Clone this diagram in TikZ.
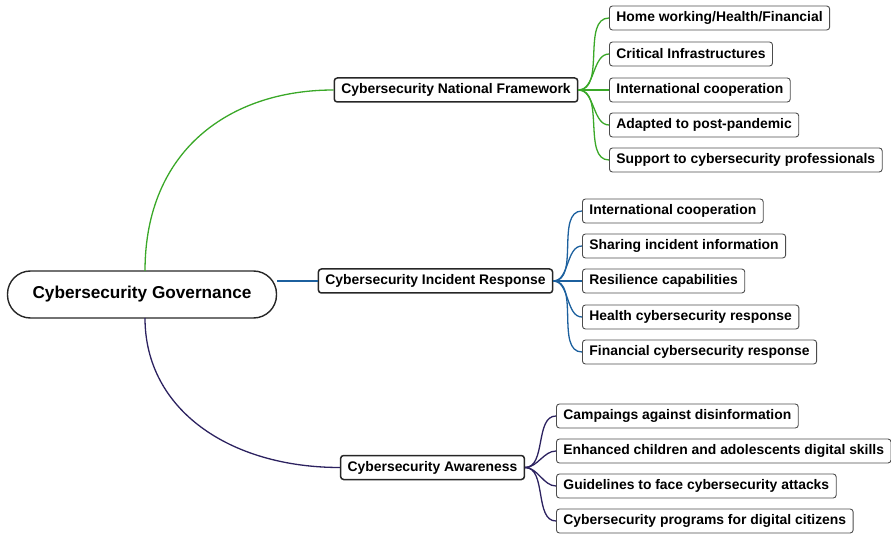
\documentclass[tikz,border=0pt]{standalone}
\usepackage{fontspec}
\setmainfont{Liberation Sans}
\begin{document}
\begin{tikzpicture}[x=1pt,y=-1pt,
  rootbox/.style={draw=black!85,line width=1.4pt,rounded corners=23pt,minimum height=47pt,
    minimum width=269pt,font=\bfseries\fontsize{17.2}{19}\selectfont,inner sep=0pt},
  branchbox/.style={draw=black!85,line width=1.5pt,rounded corners=3pt,minimum height=24pt,
    anchor=center,font=\bfseries\fontsize{13.9}{15}\selectfont,inner xsep=7pt,inner ysep=0pt},
  leafbox/.style={draw=black!70,line width=0.9pt,rounded corners=3pt,minimum height=24pt,
    anchor=west,font=\bfseries\fontsize{13.9}{15}\selectfont,inner xsep=7pt,inner ysep=0pt},
  link/.style={line width=1.3pt},
  leaflink/.style={line width=1.3pt,out=0,in=180,looseness=0.9}]
\definecolor{gframe}{RGB}{58,168,40}
\definecolor{bframe}{RGB}{28,96,158}
\definecolor{pframe}{RGB}{44,34,96}
\useasboundingbox (0,0) rectangle (891,534);

% central topic
\node[rootbox] (root) at (142,294.5) {Cybersecurity Governance};

% main branches
\node[branchbox] (nf) at (456,90) {Cybersecurity National Framework};
\node[branchbox] (ir) at (435.5,281) {Cybersecurity Incident Response};
\node[branchbox] (aw) at (432.5,467.5) {Cybersecurity Awareness};

\coordinate (rtop) at (145,271);
\coordinate (rbot) at (145,318);
\coordinate (rright) at (277,281);

\draw[link,gframe] (rtop) .. controls (145,150) and (230,90) .. (nf.west);
\draw[link,bframe] (rright) -- (ir.west);
\draw[link,pframe] (rbot) .. controls (145,410) and (230,467.5) .. (aw.west);

% national framework leaves
\foreach \n/\y/\t in {a1/18/{Home working/Health/Financial},
                       a2/54/{Critical Infrastructures},
                       a3/90/{International cooperation},
                       a4/125/{Adapted to post-pandemic},
                       a5/160/{Support to cybersecurity professionals}}{
  \node[leafbox] (\n) at (609,\y) {\t};
  \draw[leaflink,gframe] (nf.east) to (\n.west);
}

% incident response leaves
\foreach \n/\y/\t in {b1/211/{International cooperation},
                       b2/246/{Sharing incident information},
                       b3/281/{Resilience capabilities},
                       b4/317/{Health cybersecurity response},
                       b5/352/{Financial cybersecurity response}}{
  \node[leafbox] (\n) at (582,\y) {\t};
  \draw[leaflink,bframe] (ir.east) to (\n.west);
}

% awareness leaves
\foreach \n/\y/\t in {c1/416/{Campaings against disinformation},
                       c2/451/{Enhanced children and adolescents digital skills},
                       c3/486/{Guidelines to face cybersecurity attacks},
                       c4/521/{Cybersecurity programs for digital citizens}}{
  \node[leafbox] (\n) at (556,\y) {\t};
  \draw[leaflink,pframe] (aw.east) to (\n.west);
}
\end{tikzpicture}
\end{document}
